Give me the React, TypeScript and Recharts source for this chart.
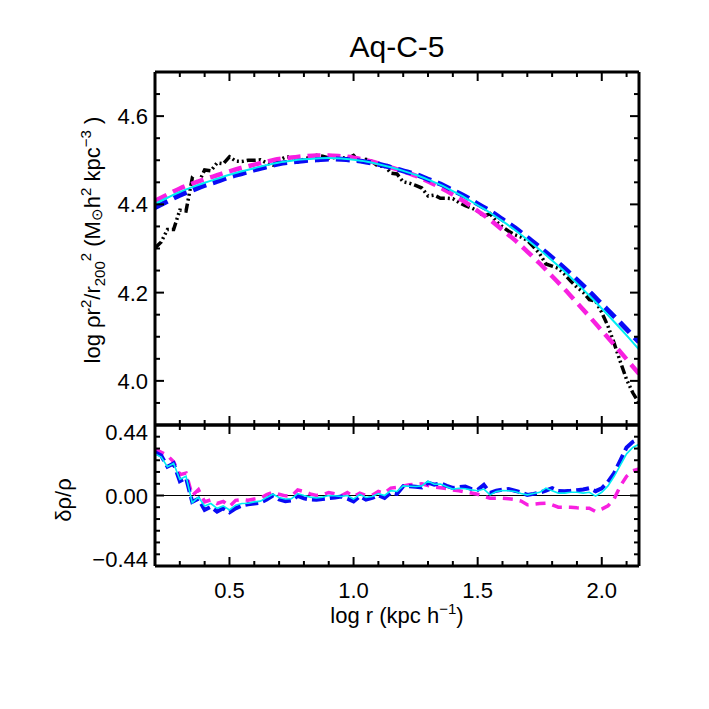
import { LineChart, Line, XAxis, YAxis, ReferenceLine } from 'recharts';

// log r grid of the measured profile (kpc/h)
const LOG_R = [
  0.2, 0.225, 0.25, 0.275, 0.3, 0.325, 0.35, 0.375, 0.4, 0.425,
  0.45, 0.475, 0.5, 0.525, 0.55, 0.575, 0.6, 0.625, 0.65, 0.675,
  0.7, 0.725, 0.75, 0.775, 0.8, 0.825, 0.85, 0.875, 0.9, 0.925,
  0.95, 0.975, 1.0, 1.025, 1.05, 1.075, 1.1, 1.125, 1.15, 1.175,
  1.2, 1.225, 1.25, 1.275, 1.3, 1.325, 1.35, 1.375, 1.4, 1.425,
  1.45, 1.475, 1.5, 1.525, 1.55, 1.575, 1.6, 1.625, 1.65, 1.675,
  1.7, 1.725, 1.75, 1.775, 1.8, 1.825, 1.85, 1.875, 1.9, 1.925,
  1.95, 1.975, 2.0, 2.025, 2.05, 2.075, 2.1, 2.125, 2.15,
];

// simulation profile (black dash-dot)
const RHO_DATA = [
  4.301, 4.315, 4.343, 4.343, 4.387, 4.385, 4.459, 4.448, 4.478, 4.476,
  4.494, 4.492, 4.508, 4.498, 4.497, 4.5, 4.5, 4.501, 4.494, 4.489,
  4.5, 4.507, 4.508, 4.496, 4.502, 4.507, 4.511, 4.509, 4.505, 4.506,
  4.507, 4.503, 4.511, 4.496, 4.502, 4.497, 4.486, 4.488, 4.471, 4.469,
  4.451, 4.448, 4.443, 4.437, 4.419, 4.421, 4.414, 4.414, 4.413, 4.404,
  4.397, 4.392, 4.385, 4.373, 4.379, 4.361, 4.349, 4.339, 4.331, 4.326,
  4.318, 4.304, 4.288, 4.265, 4.26, 4.255, 4.242, 4.226, 4.212, 4.201,
  4.184, 4.181, 4.155, 4.124, 4.085, 4.043, 4.003, 3.973, 3.95,
];

// fitted profiles, coarser grid
const FIT_R = [
  0.2, 0.25, 0.3, 0.35, 0.4, 0.45, 0.5, 0.55, 0.6, 0.65,
  0.7, 0.75, 0.8, 0.85, 0.9, 0.95, 1.0, 1.05, 1.1, 1.15,
  1.2, 1.25, 1.3, 1.35, 1.4, 1.45, 1.5, 1.55, 1.6, 1.65,
  1.7, 1.75, 1.8, 1.85, 1.9, 1.95, 2.0, 2.05, 2.1, 2.15,
];
const FIT_CYAN = [
  4.401, 4.415, 4.428, 4.439, 4.449, 4.458, 4.467, 4.475, 4.482, 4.489,
  4.495, 4.499, 4.502, 4.504, 4.505, 4.504, 4.501, 4.497, 4.491, 4.484,
  4.476, 4.467, 4.456, 4.444, 4.43, 4.415, 4.398, 4.381, 4.362, 4.342,
  4.32, 4.297, 4.273, 4.248, 4.221, 4.193, 4.164, 4.134, 4.103, 4.071,
];
const FIT_BLUE = [
  4.393, 4.407, 4.421, 4.432, 4.443, 4.452, 4.462, 4.47, 4.478, 4.485,
  4.492, 4.496, 4.499, 4.501, 4.503, 4.502, 4.5, 4.496, 4.491, 4.484,
  4.476, 4.468, 4.457, 4.446, 4.432, 4.418, 4.401, 4.385, 4.366, 4.347,
  4.325, 4.303, 4.279, 4.255, 4.229, 4.202, 4.174, 4.146, 4.117, 4.088,
];
const FIT_MAGENTA = [
  4.408, 4.422, 4.436, 4.447, 4.457, 4.466, 4.475, 4.483, 4.49, 4.497,
  4.503, 4.506, 4.509, 4.511, 4.511, 4.509, 4.506, 4.5, 4.493, 4.484,
  4.475, 4.465, 4.452, 4.438, 4.422, 4.405, 4.385, 4.365, 4.342, 4.319,
  4.293, 4.266, 4.237, 4.208, 4.177, 4.146, 4.114, 4.082, 4.049, 4.016,
];

// residuals delta rho / rho on LOG_R
const RES_CYAN = [
  0.26, 0.24, 0.18, 0.2, 0.1, 0.12, -0.045, -0.01, -0.065, -0.05,
  -0.08, -0.065, -0.09, -0.06, -0.05, -0.048, -0.04, -0.035, -0.012, 0.008,
  -0.012, -0.022, -0.02, 0.012, 0.0, -0.01, -0.015, -0.01, 0.0, -0.002,
  -0.006, 0.0, -0.022, 0.006, -0.012, -0.006, 0.012, 0.0, 0.03, 0.025,
  0.06, 0.058, 0.056, 0.06, 0.09, 0.07, 0.072, 0.055, 0.04, 0.045,
  0.042, 0.035, 0.03, 0.04, 0.004, 0.025, 0.031, 0.03, 0.025, 0.012,
  0.004, 0.012, 0.02, 0.046, 0.03, 0.015, 0.015, 0.02, 0.02, 0.015,
  0.02, -0.004, 0.02, 0.06, 0.12, 0.19, 0.26, 0.3, 0.32,
];
const RES_BLUE = [
  0.27, 0.25, 0.18, 0.2, 0.09, 0.11, -0.04, -0.02, -0.09, -0.07,
  -0.1, -0.08, -0.105, -0.08, -0.063, -0.055, -0.05, -0.044, -0.025, 0.0,
  -0.025, -0.035, -0.03, -0.003, -0.018, -0.025, -0.027, -0.022, -0.017, -0.012,
  -0.006, -0.02, -0.037, -0.005, -0.025, -0.015, 0.002, -0.015, 0.018, 0.01,
  0.058, 0.057, 0.055, 0.05, 0.08, 0.067, 0.077, 0.06, 0.047, 0.053,
  0.056, 0.04, 0.035, 0.067, 0.016, 0.03, 0.036, 0.04, 0.03, 0.02,
  0.004, 0.01, 0.018, 0.03, 0.046, 0.028, 0.027, 0.029, 0.033, 0.037,
  0.046, 0.027, 0.045, 0.085, 0.14, 0.22, 0.3, 0.335, 0.355,
];
const RES_MAGENTA = [
  0.29, 0.27, 0.25, 0.21, 0.13, 0.14, 0.0, 0.036, -0.04, -0.027,
  -0.05, -0.037, -0.068, -0.03, -0.025, -0.03, -0.022, -0.017, 0.005, 0.02,
  0.008, -0.002, -0.004, 0.035, 0.025, 0.01, 0.0, 0.005, 0.019, 0.01,
  -0.002, 0.019, -0.006, 0.015, 0.0, 0.002, 0.025, 0.015, 0.046, 0.05,
  0.06, 0.067, 0.07, 0.073, 0.062, 0.052, 0.048, 0.044, 0.035, 0.03,
  0.022, 0.015, 0.008, -0.005, -0.017, -0.017, -0.017, -0.02, -0.025, -0.035,
  -0.058, -0.054, -0.05, -0.048, -0.058, -0.073, -0.073, -0.074, -0.077, -0.079,
  -0.079, -0.1, -0.085, -0.065, -0.02, 0.06, 0.12, 0.155, 0.165,
];

const X_TICKS = [0.3, 0.4, 0.5, 0.6, 0.7, 0.8, 0.9, 1.0, 1.1, 1.2, 1.3, 1.4, 1.5, 1.6, 1.7, 1.8, 1.9, 2.0, 2.1];
const X_MAJOR = [0.5, 1.0, 1.5, 2.0];
const TOP_Y_TICKS = [3.95, 4.0, 4.05, 4.1, 4.15, 4.2, 4.25, 4.3, 4.35, 4.4, 4.45, 4.5, 4.55, 4.6, 4.65];
const TOP_Y_MAJOR = [4.0, 4.2, 4.4, 4.6];
const BOT_Y_TICKS = [-0.44, -0.367, -0.293, -0.22, -0.147, -0.073, 0, 0.073, 0.147, 0.22, 0.293, 0.367, 0.44];
const BOT_Y_MAJOR = [-0.44, 0, 0.44];
const BOT_Y_LABELS: Record<string, string> = { '-0.44': '\u22120.44', '0': '0.00', '0.44': '0.44' };

const FONT = "'Liberation Sans', Arial, Helvetica, sans-serif";
const SIZE = 709;
const AXIS = { stroke: '#000', strokeWidth: 3 };

const topRows = LOG_R.map((r, i) => {
  const j = FIT_R.findIndex(f => Math.abs(f - r) < 1e-6);
  return {
    r,
    data: RHO_DATA[i],
    cyan: j >= 0 ? FIT_CYAN[j] : null,
    blue: j >= 0 ? FIT_BLUE[j] : null,
    magenta: j >= 0 ? FIT_MAGENTA[j] : null,
  };
});

const botRows = LOG_R.map((r, i) => ({
  r,
  cyan: RES_CYAN[i],
  blue: RES_BLUE[i],
  magenta: RES_MAGENTA[i],
}));

type Side = 'left' | 'right' | 'top' | 'bottom';

// inward IDL-style ticks; labels at the ends of the axis are nudged inside
function makeTick(side: Side, majors: number[], label?: (v: number) => string, edges?: [number, number]) {
  return (props: any) => {
    const { x, y, payload } = props;
    const v = payload.value;
    const major = majors.some(m => Math.abs(m - v) < 1e-6);
    const len = major ? 9 : 5;
    let x2 = x;
    let y2 = y;
    if (side === 'left') x2 = x + len;
    if (side === 'right') x2 = x - len;
    if (side === 'top') y2 = y + len;
    if (side === 'bottom') y2 = y - len;
    let nudge = 0;
    if (edges && Math.abs(v - edges[1]) < 1e-6) nudge = 7;
    if (edges && Math.abs(v - edges[0]) < 1e-6) nudge = -7;
    return (
      <g>
        <line x1={x} y1={y} x2={x2} y2={y2} stroke="#000" strokeWidth={2} />
        {label && major && side === 'left' && (
          <text x={x - 7} y={y + 8 + nudge} textAnchor="end" fontSize={22} fontFamily={FONT} fill="#000">
            {label(v)}
          </text>
        )}
        {label && major && side === 'bottom' && (
          <text x={x} y={y + 32} textAnchor="middle" fontSize={22} fontFamily={FONT} fill="#000">
            {label(v)}
          </text>
        )}
      </g>
    );
  };
}

type Seg = { t: string; shift?: number; small?: boolean };

function RichText({ segs, ...rest }: { segs: Seg[]; [k: string]: any }) {
  let cur = 0;
  return (
    <text {...rest}>
      {segs.map((s, i) => {
        const target = s.shift ?? 0;
        const dy = target - cur;
        cur = target;
        return (
          <tspan key={i} dy={dy} fontSize={s.small ? 15 : undefined}>
            {s.t}
          </tspan>
        );
      })}
    </text>
  );
}

const TOP_YLABEL: Seg[] = [
  { t: 'log \u03c1r' },
  { t: '2', shift: -9, small: true },
  { t: '/r' },
  { t: '200', shift: 5, small: true },
  { t: '2', shift: -9, small: true },
  { t: ' (M' },
  { t: '\u2299', shift: 2, small: true },
  { t: 'h' },
  { t: '2', shift: -9, small: true },
  { t: ' kpc' },
  { t: '\u22123', shift: -9, small: true },
  { t: ' )' },
];

const XLABEL: Seg[] = [
  { t: 'log r (kpc h' },
  { t: '\u22121', shift: -9, small: true },
  { t: ')' },
];

// shared axis props; axes need a size of at least 1px or recharts skips them
const xCommon = {
  dataKey: 'r', type: 'number' as const, domain: [0.2, 2.15], allowDataOverflow: true, ticks: X_TICKS,
  interval: 0, height: 1, tickSize: 0, tickMargin: 0, tickLine: false, axisLine: AXIS,
};

export default function App() {
  return (
    <div style={{ position: 'absolute', left: 0, top: 0, width: SIZE, height: SIZE, background: '#fff' }}>
      <div style={{ position: 'absolute', left: 0, top: 0 }}>
        <LineChart width={SIZE} height={SIZE} data={topRows} margin={{ top: 71, right: 69, bottom: SIZE - 426, left: 154 }}>
          <XAxis {...xCommon} tick={makeTick('bottom', X_MAJOR)} />
          <XAxis {...xCommon} xAxisId="top" orientation="top" tick={makeTick('top', X_MAJOR)} />
          <YAxis type="number" domain={[3.9, 4.7]} allowDataOverflow ticks={TOP_Y_TICKS} interval={0} width={1}
            tickSize={0} tickMargin={0} tickLine={false} axisLine={AXIS}
            tick={makeTick('left', TOP_Y_MAJOR, v => v.toFixed(1))} />
          <YAxis yAxisId="right" orientation="right" type="number" domain={[3.9, 4.7]} allowDataOverflow
            ticks={TOP_Y_TICKS} interval={0} width={1} tickSize={0} tickMargin={0} tickLine={false} axisLine={AXIS}
            tick={makeTick('right', TOP_Y_MAJOR)} />
          <Line type="linear" dataKey="data" stroke="#000" strokeWidth={3.5} strokeDasharray="9 3 2 3 2 3 2 3"
            dot={false} isAnimationActive={false} />
          <Line type="monotone" dataKey="magenta" stroke="#f820e0" strokeWidth={4.5} strokeDasharray="13 7"
            dot={false} connectNulls isAnimationActive={false} />
          <Line type="monotone" dataKey="blue" stroke="#0a0af5" strokeWidth={5} strokeDasharray="14 7"
            dot={false} connectNulls isAnimationActive={false} />
          <Line type="monotone" dataKey="cyan" stroke="#00eef2" strokeWidth={2} dot={false} connectNulls
            isAnimationActive={false} />
        </LineChart>
      </div>
      <div style={{ position: 'absolute', left: 0, top: 0 }}>
        <LineChart width={SIZE} height={SIZE} data={botRows} margin={{ top: 424, right: 69, bottom: SIZE - 567, left: 154 }}>
          <XAxis {...xCommon} tick={makeTick('bottom', X_MAJOR, v => v.toFixed(1))} />
          <XAxis {...xCommon} xAxisId="top" orientation="top" tick={makeTick('top', X_MAJOR)} />
          <YAxis type="number" domain={[-0.44, 0.44]} allowDataOverflow ticks={BOT_Y_TICKS} interval={0} width={1}
            tickSize={0} tickMargin={0} tickLine={false} axisLine={AXIS}
            tick={makeTick('left', BOT_Y_MAJOR, v => BOT_Y_LABELS[String(v)] ?? '', [-0.44, 0.44])} />
          <YAxis yAxisId="right" orientation="right" type="number" domain={[-0.44, 0.44]} allowDataOverflow
            ticks={BOT_Y_TICKS} interval={0} width={1} tickSize={0} tickMargin={0} tickLine={false} axisLine={AXIS}
            tick={makeTick('right', BOT_Y_MAJOR)} />
          <ReferenceLine y={0} stroke="#000" strokeWidth={1.2} />
          <Line type="linear" dataKey="magenta" stroke="#f820e0" strokeWidth={3.5} strokeDasharray="10 7"
            dot={false} isAnimationActive={false} />
          <Line type="linear" dataKey="blue" stroke="#0a0af5" strokeWidth={4} strokeDasharray="13 5"
            dot={false} isAnimationActive={false} />
          <Line type="linear" dataKey="cyan" stroke="#00eef2" strokeWidth={1.6} dot={false}
            isAnimationActive={false} />
        </LineChart>
      </div>
      <svg width={SIZE} height={SIZE} style={{ position: 'absolute', left: 0, top: 0, pointerEvents: 'none' }}>
        <text x={397} y={57} textAnchor="middle" fontSize={30} fontFamily={FONT} fill="#000">Aq-C-5</text>
        <RichText segs={XLABEL} x={397} y={623} textAnchor="middle" fontSize={22} fontFamily={FONT} fill="#000" />
        <RichText segs={TOP_YLABEL} transform="translate(100,240) rotate(-90)" x={0} y={0} textAnchor="middle"
          fontSize={22} fontFamily={FONT} fill="#000" />
        <text transform="translate(71,500) rotate(-90)" x={0} y={0} textAnchor="middle" fontSize={22}
          fontFamily={FONT} fill="#000">{'\u03b4\u03c1/\u03c1'}</text>
      </svg>
    </div>
  );
}
